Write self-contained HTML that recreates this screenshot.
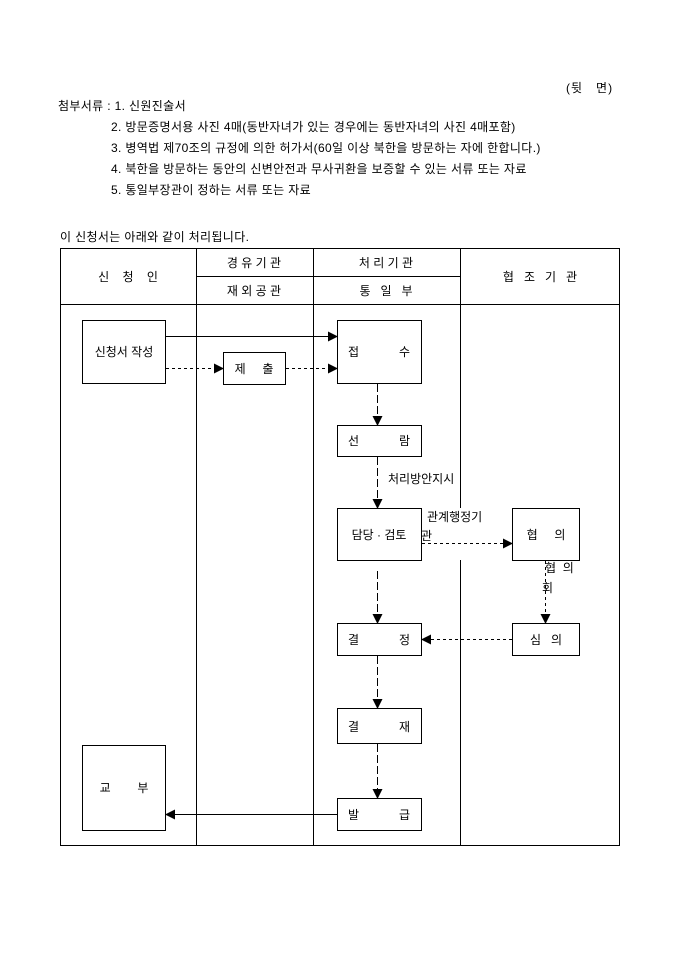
<!DOCTYPE html>
<html><head><meta charset="utf-8"><style>
body{margin:0;background:#fff;}
#c{position:relative;width:680px;height:962px;font-family:"Liberation Sans","Noto Sans CJK KR","NanumGothic",sans-serif;font-size:12px;color:#000;}
.t{position:absolute;white-space:pre;line-height:14px;letter-spacing:0.35px;}
</style></head><body><div id="c">
<div class="t" style="left:566px;top:81px;letter-spacing:1px">(뒷   면)</div>
<div class="t" style="left:58px;top:99px">첨부서류 : 1. 신원진술서</div>
<div class="t" style="left:111px;top:120px">2. 방문증명서용 사진 4매(동반자녀가 있는 경우에는 동반자녀의 사진 4매포함)</div>
<div class="t" style="left:111px;top:141px">3. 병역법 제70조의 규정에 의한 허가서(60일 이상 북한을 방문하는 자에 한합니다.)</div>
<div class="t" style="left:111px;top:162px">4. 북한을 방문하는 동안의 신변안전과 무사귀환을 보증할 수 있는 서류 또는 자료</div>
<div class="t" style="left:111px;top:183px">5. 통일부장관이 정하는 서류 또는 자료</div>
<div class="t" style="left:60px;top:230px">이 신청서는 아래와 같이 처리됩니다.</div>
<svg width="680" height="962" style="position:absolute;left:0;top:0" font-family="Liberation Sans, Noto Sans CJK KR, sans-serif" font-size="12">
<defs><marker id="a" markerWidth="10" markerHeight="10" refX="9" refY="5" orient="auto" markerUnits="userSpaceOnUse"><path d="M0,0 L10,5 L0,10z" fill="#000"/></marker></defs>
<g stroke="#000" fill="none" stroke-width="1">
<rect x="60.5" y="248.5" width="559" height="597"/>
<line x1="60" y1="304.5" x2="620" y2="304.5"/>
<line x1="196" y1="276.5" x2="460" y2="276.5"/>
<line x1="196.5" y1="248" x2="196.5" y2="846"/>
<line x1="313.5" y1="248" x2="313.5" y2="846"/>
<line x1="460.5" y1="248" x2="460.5" y2="508"/>
<line x1="460.5" y1="560" x2="460.5" y2="846"/>
<rect x="82.5" y="320.5" width="83" height="63"/>
<rect x="223.5" y="352.5" width="62" height="32"/>
<rect x="337.5" y="320.5" width="84" height="63"/>
<rect x="337.5" y="425.5" width="84" height="31"/>
<rect x="337.5" y="508.5" width="84" height="52"/>
<rect x="512.5" y="508.5" width="67" height="52"/>
<rect x="337.5" y="623.5" width="84" height="32"/>
<rect x="512.5" y="623.5" width="67" height="32"/>
<rect x="337.5" y="708.5" width="84" height="35"/>
<rect x="82.5" y="745.5" width="83" height="85"/>
<rect x="337.5" y="798.5" width="84" height="32"/>
<line x1="166" y1="336.5" x2="337" y2="336.5" marker-end="url(#a)"/>
<line x1="166" y1="368.5" x2="223" y2="368.5" stroke-dasharray="3,3" marker-end="url(#a)"/>
<line x1="286" y1="368.5" x2="337" y2="368.5" stroke-dasharray="3,3" marker-end="url(#a)"/>
<line x1="377.5" y1="384" x2="377.5" y2="425" stroke-dasharray="8,3" marker-end="url(#a)"/>
<line x1="377.5" y1="457" x2="377.5" y2="508" stroke-dasharray="8,3" marker-end="url(#a)"/>
<line x1="422" y1="543.5" x2="512" y2="543.5" stroke-dasharray="3,3" marker-end="url(#a)"/>
<line x1="545.5" y1="561" x2="545.5" y2="623" stroke-dasharray="3,3" marker-end="url(#a)"/>
<line x1="512" y1="639.5" x2="422" y2="639.5" stroke-dasharray="3,3" marker-end="url(#a)"/>
<line x1="377.5" y1="571" x2="377.5" y2="623" stroke-dasharray="8,3" marker-end="url(#a)"/>
<line x1="377.5" y1="656" x2="377.5" y2="708" stroke-dasharray="8,3" marker-end="url(#a)"/>
<line x1="377.5" y1="744" x2="377.5" y2="798" stroke-dasharray="8,3" marker-end="url(#a)"/>
<line x1="337" y1="814.5" x2="166" y2="814.5" marker-end="url(#a)"/>
</g>
<g fill="#000" text-anchor="middle">
<text x="128" y="281" xml:space="preserve">신    청    인</text>
<text x="254" y="267">경 유 기 관</text>
<text x="254" y="295">재 외 공 관</text>
<text x="386" y="267">처 리 기 관</text>
<text x="386" y="295" xml:space="preserve">통   일   부</text>
<text x="540" y="281" xml:space="preserve">협   조   기   관</text>
<text x="124" y="356">신청서 작성</text>
<text x="254" y="373" xml:space="preserve">제     출</text>
<text x="379" y="356" xml:space="preserve">접            수</text>
<text x="379" y="445" xml:space="preserve">선            람</text>
<text x="379" y="539">담당 · 검토</text>
<text x="546" y="539" xml:space="preserve">협     의</text>
<text x="379" y="644" xml:space="preserve">결            정</text>
<text x="546" y="644" xml:space="preserve">심   의</text>
<text x="379" y="731" xml:space="preserve">결            재</text>
<text x="124" y="792" xml:space="preserve">교        부</text>
<text x="379" y="819" xml:space="preserve">발            급</text>
</g>
<g fill="#000">
<text x="388" y="483">처리방안지시</text>
<text x="427" y="521">관계행정기</text>
<text x="421" y="540">관</text>
<text x="545" y="572" xml:space="preserve">협  의</text>
<text x="542" y="592">회</text>
</g>
</svg>
</div></body></html>
